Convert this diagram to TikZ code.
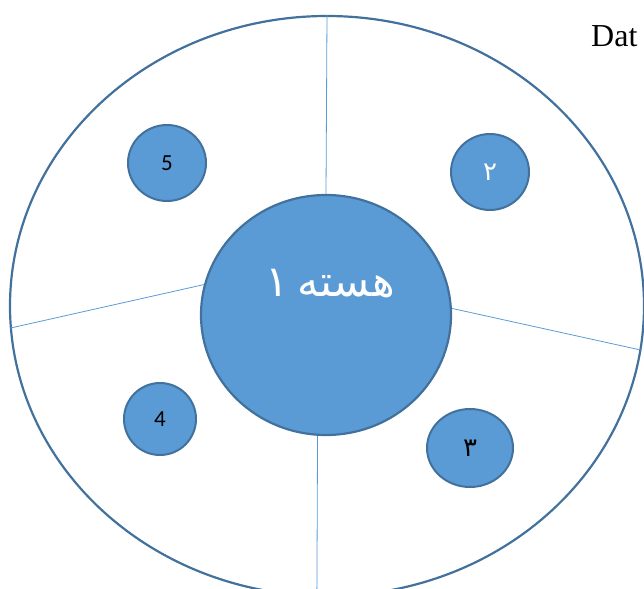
\documentclass[tikz,border=0pt]{standalone}
\usepackage{fontspec}
\setmainfont{Liberation Serif}
\newfontfamily\arabicfont[Script=Arabic]{DejaVu Sans}
\newfontfamily\calfont{Carlito}
\TeXXeTstate=1
\usetikzlibrary{shapes.geometric, positioning}
\definecolor{cellFill}{HTML}{5B9BD5}
\definecolor{cellEdge}{HTML}{41719C}
\definecolor{cellLine}{HTML}{5B9BD5}
\tikzset{
  outerCell/.style={ellipse, draw=cellEdge, line width=2.2pt, inner sep=0pt,
                    minimum width=634pt, minimum height=580pt},
  coreCell/.style={ellipse, draw=cellEdge, fill=cellFill, line width=2.2pt,
                   inner sep=0pt, minimum width=250pt, minimum height=240pt},
  smallCell/.style={ellipse, draw=cellEdge, fill=cellFill, line width=2pt,
                    inner sep=0pt, minimum width=78pt, minimum height=76pt},
  divLine/.style={draw=cellLine, line width=0.8pt},
}

\begin{document}
\begin{tikzpicture}[x=1pt, y=-1pt]
    \useasboundingbox (0,0) rectangle (644,588);
    \clip (0,0) rectangle (644,588);

    % ellipse of the whole cell
    \node[outerCell] (outer) at (327,306) {};

    % core in the middle
    \node[coreCell] (core) at (326,315) {};
    \node[text=white, font=\arabicfont\fontsize{43}{45}\selectfont]
         (coreText) at (330,284) {\beginR هسته\kern-4pt\ ۱\endR};

    % dividing lines
    \draw[divLine] (core.90) -- (outer.90);
    \draw[divLine] (core.166) -- (outer.184);
    \draw[divLine] (core.3) -- (outer.352);
    \draw[divLine] (core.266) -- (outer.268);

    % small parts
    \node[smallCell, font=\calfont\fontsize{23}{25}\selectfont] (five) at (167,163) {5};
    \node[smallCell, text=white, font=\arabicfont\fontsize{26}{28}\selectfont]
         (two) at (490,172) {۲};
    \node[smallCell, minimum width=86pt, minimum height=78pt,
          font=\arabicfont\fontsize{26}{28}\selectfont] (three) at (470,448) {۳};
    \node[smallCell, minimum width=72pt, minimum height=72pt,
          font=\calfont\fontsize{23}{25}\selectfont] (four) at (160,419) {4};

    % text at top right
    \node[anchor=base west, inner sep=0pt, font=\fontsize{32}{34}\selectfont]
         (dat) at (591,47) {Dat};
\end{tikzpicture}
\end{document}
